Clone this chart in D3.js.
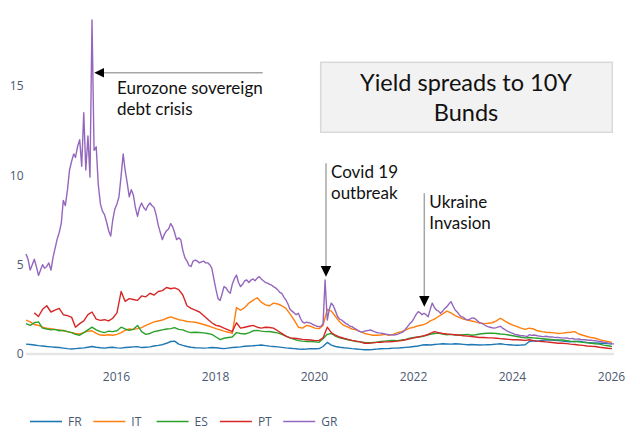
<!DOCTYPE html>
<html>
<head>
<meta charset="utf-8">
<script src="https://cdn.jsdelivr.net/npm/d3@7"></script>
<style>
  html, body { margin: 0; padding: 0; background: #ffffff; }
  svg { display: block; }
</style>
</head>
<body>
<svg id="chart" width="640" height="438"></svg>
<script>
// ---------------- DATA ----------------
const seriesNames = ["FR", "IT", "ES", "PT", "GR"];
const seriesColors = ["#1f77b4", "#ff7f0e", "#2ca02c", "#d62728", "#9467bd"];
const xTickYears = [2016, 2018, 2020, 2022, 2024, 2026];
const yTickValues = [0, 5, 10, 15];

// monthly observations from 2014-03-08 (143 months)
const monthlyStart = new Date(2014, 2, 8);
const monthlyCount = 143;
// semi-monthly observations (8th and 23rd) for GR (286 points)
const grCount = 286;

const FR = [0.55,0.53,0.5,0.47,0.45,0.42,0.4,0.38,0.36,0.33,0.3,0.28,0.3,0.32,0.34,0.38,0.42,0.38,0.35,0.33,
0.36,0.38,0.34,0.33,0.36,0.38,0.4,0.41,0.36,0.38,0.4,0.45,0.48,0.52,0.6,0.7,0.72,0.55,0.48,0.42,
0.38,0.35,0.34,0.33,0.34,0.36,0.35,0.32,0.3,0.33,0.36,0.38,0.4,0.43,0.45,0.46,0.48,0.5,0.47,0.44,
0.42,0.4,0.37,0.34,0.32,0.3,0.28,0.27,0.28,0.3,0.29,0.3,0.42,0.65,0.5,0.42,0.38,0.35,0.33,0.3,
0.28,0.26,0.24,0.24,0.25,0.27,0.29,0.3,0.31,0.33,0.33,0.35,0.37,0.39,0.42,0.45,0.5,0.52,0.5,0.53,
0.55,0.57,0.56,0.55,0.57,0.56,0.54,0.52,0.53,0.52,0.5,0.51,0.52,0.53,0.55,0.57,0.54,0.52,0.5,0.49,
0.5,0.52,0.7,0.74,0.72,0.76,0.78,0.8,0.77,0.75,0.72,0.7,0.68,0.7,0.72,0.68,0.65,0.63,0.62,0.6,
0.6,0.58,0.56];

const IT = [1.9,1.8,1.65,1.6,1.5,1.45,1.42,1.38,1.35,1.3,1.25,1.2,1.15,1.12,1.2,1.28,1.3,1.15,1.06,1.05,
1.08,1.05,1.1,1.2,1.32,1.4,1.38,1.42,1.48,1.6,1.7,1.8,1.85,1.9,2.0,2.08,2.0,1.92,1.88,1.82,
1.8,1.78,1.72,1.65,1.58,1.5,1.42,1.35,1.28,1.22,1.15,2.6,2.45,2.6,2.85,3.0,3.15,2.9,2.75,2.7,
2.85,2.8,2.7,2.55,2.25,1.9,1.5,1.45,1.6,1.55,1.45,1.42,1.6,2.5,2.4,2.1,1.8,1.6,1.5,1.4,
1.35,1.25,1.15,1.1,1.05,1.05,1.06,1.1,1.05,1.1,1.2,1.25,1.35,1.45,1.5,1.58,1.62,1.7,1.85,1.95,
2.1,2.25,2.4,2.3,2.15,2.05,1.95,1.9,1.85,1.8,1.73,1.7,1.72,1.75,1.85,2.0,1.85,1.72,1.62,1.53,
1.45,1.38,1.45,1.4,1.3,1.25,1.22,1.2,1.18,1.15,1.17,1.2,1.22,1.25,1.12,1.05,0.98,0.92,0.88,0.8,
0.75,0.7,0.65];

const ES = [1.7,1.6,1.75,1.8,1.45,1.4,1.35,1.38,1.3,1.32,1.25,1.2,1.1,1.05,1.2,1.35,1.5,1.35,1.25,1.2,
1.28,1.25,1.3,1.5,1.4,1.32,1.38,1.6,1.25,1.1,1.15,1.25,1.3,1.35,1.4,1.42,1.48,1.38,1.35,1.25,
1.2,1.22,1.2,1.18,1.15,1.1,0.95,0.8,0.88,0.92,0.95,1.2,1.15,1.12,1.18,1.3,1.32,1.28,1.25,1.26,
1.22,1.18,1.1,1.0,0.9,0.82,0.75,0.72,0.7,0.7,0.68,0.66,0.85,1.1,1.15,1.0,0.9,0.85,0.8,0.75,
0.7,0.68,0.65,0.63,0.64,0.66,0.7,0.72,0.74,0.76,0.75,0.78,0.82,0.88,0.92,0.95,0.97,1.05,1.1,1.15,
1.17,1.12,1.08,1.1,1.06,1.05,1.08,1.1,1.05,1.08,1.12,1.15,1.16,1.17,1.15,1.12,1.1,1.06,1.02,0.98,
0.94,0.9,0.92,0.9,0.88,0.86,0.84,0.82,0.8,0.79,0.78,0.75,0.72,0.7,0.68,0.65,0.62,0.6,0.57,0.55,
0.5,0.46,0.42];

const PT = [null,null,2.3,2.1,2.5,2.7,2.35,2.45,2.55,2.2,2.15,2.05,1.5,1.7,1.85,2.2,2.35,1.95,1.88,1.92,
1.85,2.0,2.3,3.5,2.95,3.1,3.05,3.0,3.25,3.2,3.4,3.3,3.5,3.55,3.72,3.65,3.7,3.6,3.3,2.7,
2.55,2.45,2.35,2.15,1.95,1.75,1.6,1.55,1.45,1.35,1.25,1.75,1.45,1.5,1.55,1.6,1.5,1.45,1.5,1.48,
1.45,1.3,1.15,1.0,0.9,0.88,0.85,0.82,0.8,0.78,0.75,0.76,0.9,1.5,1.2,1.05,0.95,0.88,0.82,0.76,
0.72,0.68,0.6,0.6,0.62,0.65,0.66,0.68,0.68,0.7,0.72,0.75,0.8,0.85,0.9,0.95,1.0,1.05,1.15,1.25,
1.2,1.15,1.12,1.1,1.08,1.06,1.02,1.0,0.98,0.95,0.92,0.92,0.9,0.9,0.88,0.86,0.84,0.82,0.8,0.8,
0.78,0.76,0.8,0.75,0.72,0.7,0.68,0.66,0.63,0.6,0.6,0.58,0.55,0.53,0.5,0.48,0.45,0.43,0.42,0.38,
0.35,0.32,0.3];

const GR = [5.6,5.3,4.7,5.0,5.3,4.9,4.4,4.7,5.0,4.8,4.9,5.1,4.7,5.4,5.9,6.4,6.8,7.3,8.6,8.3,
9.2,10.3,10.8,11.2,11.0,11.6,12.0,10.5,13.5,10.3,12.2,9.9,18.7,11.4,11.6,9.5,8.4,8.0,7.8,7.4,
6.9,6.6,7.5,8.1,8.4,8.8,10.0,11.2,10.3,9.6,8.8,9.2,8.9,8.2,7.7,8.2,8.45,8.2,8.05,8.3,
8.45,8.3,8.2,7.8,7.2,6.8,6.4,6.7,6.9,7.0,7.3,7.1,6.8,6.4,6.5,6.4,5.8,5.4,5.2,4.95,
4.9,5.2,5.26,5.2,5.1,5.16,5.2,5.1,5.1,5.0,4.8,4.2,3.6,3.1,3.0,3.4,3.77,3.7,3.5,3.4,
3.9,4.2,4.42,4.0,3.77,3.9,4.1,4.14,4.0,4.14,4.2,4.1,4.25,4.33,4.2,4.1,4.0,3.97,3.9,3.85,
3.77,3.7,3.6,3.45,3.4,3.2,3.02,2.8,2.5,2.4,2.3,2.2,2.28,2.0,1.8,1.73,1.78,1.75,1.73,1.65,
1.6,1.55,1.53,1.55,1.7,4.14,1.9,2.5,2.85,2.7,2.4,2.1,1.95,1.9,1.8,1.7,1.65,1.55,1.53,1.45,
1.38,1.3,1.25,1.22,1.28,1.3,1.32,1.34,1.3,1.25,1.2,1.18,1.17,1.15,1.12,1.1,1.08,1.07,1.06,1.08,
1.1,1.15,1.2,1.25,1.4,1.55,1.7,1.8,2.0,2.2,2.37,2.3,2.2,2.28,2.2,2.09,2.5,2.85,2.6,2.46,
2.4,2.28,2.4,2.55,2.65,2.8,2.93,2.7,2.46,2.35,2.2,2.09,2.05,1.95,1.9,1.95,2.0,2.02,1.95,1.85,
1.75,1.73,1.65,1.58,1.53,1.5,1.47,1.45,1.48,1.52,1.55,1.45,1.38,1.3,1.25,1.2,1.15,1.1,1.08,1.05,
1.03,1.02,1.0,0.98,1.08,1.04,1.06,1.05,1.02,1.0,0.98,0.97,0.99,0.97,0.95,0.96,0.93,0.92,0.93,0.9,
0.9,0.89,0.9,0.87,0.86,0.87,0.84,0.83,0.84,0.81,0.8,0.8,0.78,0.77,0.77,0.75,0.74,0.72,0.7,0.69,
0.66,0.65,0.62,0.61,0.58,0.56];

// ---------------- BUILD ----------------
const monthlyDates = d3.range(monthlyCount).map(i => d3.timeMonth.offset(monthlyStart, i));
const grDates = d3.range(grCount).map(j => new Date(2014, 2 + Math.floor(j / 2), j % 2 ? 23 : 8));

const seriesValues = [FR, IT, ES, PT, GR];
const seriesDates = [monthlyDates, monthlyDates, monthlyDates, monthlyDates, grDates];

const svg = d3.select("#chart");

const x = d3.scaleTime()
  .domain([new Date(2016, 0, 1), new Date(2026, 0, 1)])
  .range([116, 611]);
const y = d3.scaleLinear()
  .domain([0, 15])
  .range([354, 86]);

const tickColor = "#4a5872";
const fontTick = "'Open Sans', 'DejaVu Sans', sans-serif";

// zero line
svg.append("line")
  .attr("x1", x(monthlyStart)).attr("x2", x(grDates[grDates.length - 1]))
  .attr("y1", y(0)).attr("y2", y(0))
  .attr("stroke", "#e6e6e6").attr("stroke-width", 2.5);

// x axis
const xAxis = d3.axisBottom(x)
  .tickValues(xTickYears.map(yr => new Date(yr, 0, 1)))
  .tickFormat(d3.timeFormat("%Y"))
  .tickSize(0).tickPadding(0);
const gx = svg.append("g").attr("transform", "translate(0,372)").call(xAxis);
gx.select(".domain").remove();
gx.selectAll("text")
  .attr("fill", tickColor).attr("font-size", 12).attr("font-family", fontTick)
  .attr("dy", "0.71em").attr("y", 0);

// y axis
const yAxis = d3.axisLeft(y).tickValues(yTickValues).tickSize(0).tickPadding(0);
const gy = svg.append("g").attr("transform", "translate(23.5,0)").call(yAxis);
gy.select(".domain").remove();
gy.selectAll("text")
  .attr("fill", tickColor).attr("font-size", 12).attr("font-family", fontTick);

// series
const line = d3.line()
  .defined(d => d[1] != null)
  .x(d => x(d[0]))
  .y(d => y(d[1]));

seriesValues.forEach((vals, k) => {
  const pts = vals.map((v, i) => [seriesDates[k][i], v]);
  svg.append("path")
    .datum(pts)
    .attr("fill", "none")
    .attr("stroke", seriesColors[k])
    .attr("stroke-width", 1.4)
    .attr("stroke-linejoin", "round")
    .attr("d", line);
});

// legend
const legend = svg.append("g").attr("transform", "translate(30,421.5)");
seriesNames.forEach((name, k) => {
  const g = legend.append("g").attr("transform", `translate(${k * 63.3},0)`);
  g.append("line").attr("x1", 0).attr("x2", 32).attr("y1", 0).attr("y2", 0)
    .attr("stroke", seriesColors[k]).attr("stroke-width", 1.6);
  g.append("text").attr("x", 38).attr("y", 0).attr("dy", "0.35em")
    .attr("fill", tickColor).attr("font-size", 12).attr("font-family", fontTick)
    .text(name);
});

// title box
const annFont = "Lato, 'Open Sans', sans-serif";
svg.append("rect")
  .attr("x", 320.7).attr("y", 62.3).attr("width", 291.6).attr("height", 70)
  .attr("fill", "#f2f2f2").attr("stroke", "#d9d9d9").attr("stroke-width", 1.5);
svg.append("text").attr("x", 466).attr("y", 90.7).attr("text-anchor", "middle")
  .attr("font-family", annFont).attr("font-size", 23.5).attr("fill", "#111")
  .text("Yield spreads to 10Y");
svg.append("text").attr("x", 466).attr("y", 121).attr("text-anchor", "middle")
  .attr("font-family", annFont).attr("font-size", 23.5).attr("fill", "#111")
  .text("Bunds");

// annotations
const arrowGray = "#a6a6a6";
function annText(xp, yp, str) {
  svg.append("text").attr("x", xp).attr("y", yp)
    .attr("font-family", annFont).attr("font-size", 17).attr("fill", "#111").text(str);
}
// Eurozone
svg.append("line").attr("x1", 262.7).attr("x2", 103).attr("y1", 72.7).attr("y2", 72.7)
  .attr("stroke", arrowGray).attr("stroke-width", 1.5);
svg.append("path").attr("d", "M94.3,72.7 L104,68 L104,77.4 Z").attr("fill", "#000");
annText(117, 94.3, "Eurozone sovereign");
annText(117, 115, "debt crisis");
// Covid
svg.append("line").attr("x1", 326).attr("x2", 326).attr("y1", 163.3).attr("y2", 267)
  .attr("stroke", arrowGray).attr("stroke-width", 1.5);
svg.append("path").attr("d", "M320.7,266 L331.2,266 L326,276.7 Z").attr("fill", "#000");
annText(331, 177.7, "Covid 19");
annText(331, 199.3, "outbreak");
// Ukraine
svg.append("line").attr("x1", 424.3).attr("x2", 424.3).attr("y1", 193.3).attr("y2", 297)
  .attr("stroke", arrowGray).attr("stroke-width", 1.5);
svg.append("path").attr("d", "M419.1,296 L429.5,296 L424.3,306.7 Z").attr("fill", "#000");
annText(429.3, 207.7, "Ukraine");
annText(429.3, 229.3, "Invasion");
</script>
</body>
</html>
